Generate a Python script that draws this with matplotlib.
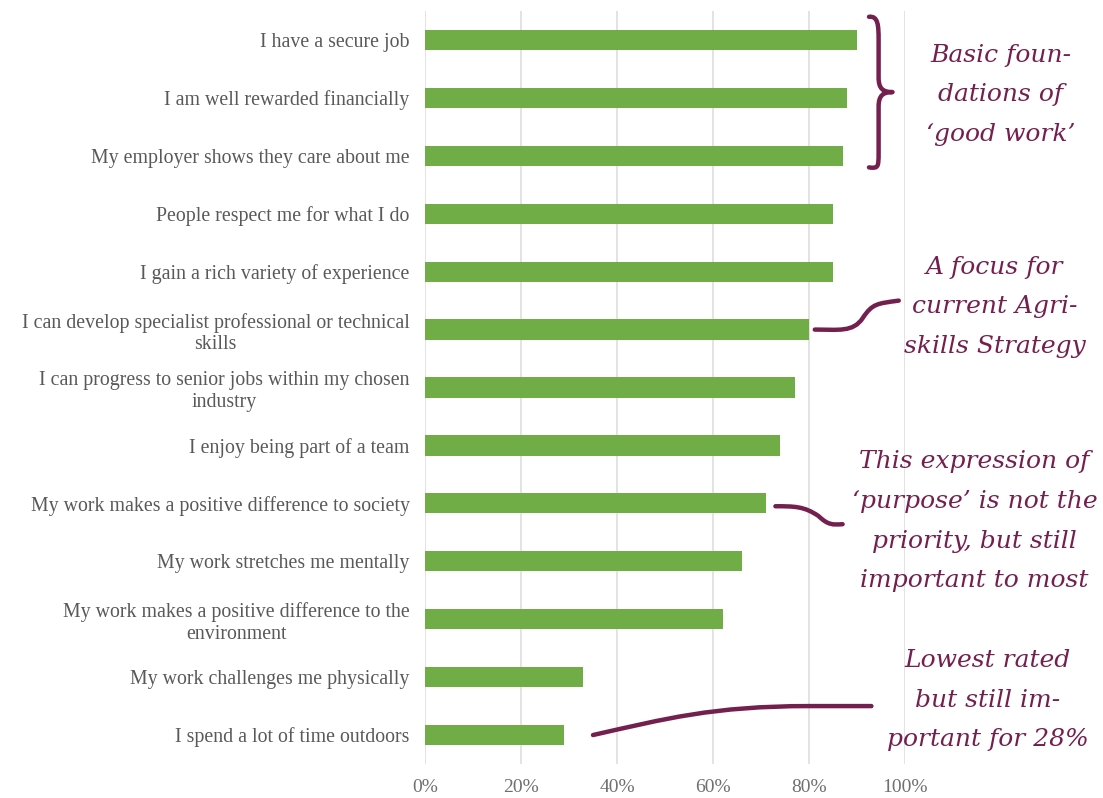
import matplotlib
matplotlib.use("Agg")
import matplotlib.pyplot as plt
from matplotlib.path import Path
from matplotlib.patches import PathPatch

categories = [
    "I have a secure job",
    "I am well rewarded financially",
    "My employer shows they care about me",
    "People respect me for what I do",
    "I gain a rich variety of experience",
    "I can develop specialist professional or technical\nskills",
    "I can progress to senior jobs within my chosen\nindustry",
    "I enjoy being part of a team",
    "My work makes a positive difference to society",
    "My work stretches me mentally",
    "My work makes a positive difference to the\nenvironment",
    "My work challenges me physically",
    "I spend a lot of time outdoors",
]
values = [90, 88, 87, 85, 85, 80, 77, 74, 71, 66, 62, 33, 29]
xticks = [0, 20, 40, 60, 80, 100]

notes = [
    "Basic foun-\ndations of\n\u2018good work\u2019",
    "A focus for\ncurrent Agri-\nskills Strategy",
    "This expression of\n\u2018purpose\u2019 is not the\npriority, but still\nimportant to most",
    "Lowest rated\nbut still im-\nportant for 28%",
]

GREEN = "#70AD47"
GREY = "#595959"
MAROON = "#74204F"

fig = plt.figure(figsize=(11.03, 7.98), dpi=100)
ax = fig.add_axes([0.3853, 0.0426, 0.4352, 0.9436])

ys = list(range(len(categories)))
ax.barh(ys, values, height=0.35, color=GREEN, zorder=2)
ax.set_ylim(len(categories) - 0.5, -0.5)
ax.set_xlim(0, 100)
ax.set_xticks(xticks)
ax.set_xticklabels([f"{t}%" for t in xticks], fontsize=14, color="#6f6f6f",
                   family="Liberation Serif")
ax.set_yticks(ys)
ax.set_yticklabels(categories, fontsize=14.3, color=GREY, family="Liberation Serif")
for lbl in ax.get_yticklabels():
    lbl.set_multialignment("center")
    lbl.set_linespacing(1.2)
ax.tick_params(length=0, pad=11)
ax.tick_params(axis="x", pad=11)
ax.grid(axis="x", color="#E0E0E0", lw=1.3, zorder=0)
for s in ax.spines.values():
    s.set_visible(False)

line_kw = dict(fill=False, edgecolor=MAROON, lw=3.2, capstyle="round",
               joinstyle="round", clip_on=False, zorder=3)

# brace around the top three bars
C4 = Path.CURVE4
brace = Path(
    [(92.5, -0.40), (94.4, -0.42), (94.5, -0.25), (94.5, 0.0),
     (94.5, 0.65), (94.5, 0.84), (95.4, 0.9), (97.4, 0.9),
     (95.4, 0.9), (94.5, 0.96), (94.5, 1.15),
     (94.5, 1.95), (94.5, 2.2), (94.4, 2.22), (92.5, 2.2)],
    [Path.MOVETO, C4, C4, C4, Path.LINETO, C4, C4, C4, C4, C4, C4,
     Path.LINETO, C4, C4, C4],
)
ax.add_patch(PathPatch(brace, **line_kw))

# connector to the agri-skills bar
x0 = values[5] + 1.2
agri = Path(
    [(x0, 5.0), (x0 + 5, 5.0), (x0 + 8, 5.05), (x0 + 10, 4.8),
     (x0 + 12, 4.55), (x0 + 13, 4.55), (x0 + 17.5, 4.5)],
    [Path.MOVETO, C4, C4, C4, C4, C4, C4],
)
ax.add_patch(PathPatch(agri, **line_kw))

# connector to the society bar
x1 = values[8] + 2
purpose = Path(
    [(x1, 8.05), (x1 + 4, 8.05), (x1 + 6, 8.05), (x1 + 9, 8.22),
     (x1 + 11, 8.38), (x1 + 12, 8.37), (x1 + 14, 8.36)],
    [Path.MOVETO, C4, C4, C4, C4, C4, C4],
)
ax.add_patch(PathPatch(purpose, **line_kw))

# connector to the outdoors bar
x2 = values[12] + 6
lowest = Path(
    [(x2, 12.0), (x2 + 15, 11.72), (x2 + 25, 11.5), (x2 + 45, 11.5),
     (x2 + 58, 11.5)],
    [Path.MOVETO, C4, C4, C4, Path.LINETO],
)
ax.add_patch(PathPatch(lowest, **line_kw))

note_kw = dict(color=MAROON, fontsize=18, family="DejaVu Serif", style="italic",
               ha="center", va="center", multialignment="center",
               linespacing=1.92, clip_on=False)
ax.text(119.9, 0.95, notes[0], **note_kw)
ax.text(118.7, 4.61, notes[1], **note_kw)
ax.text(114.5, 8.31, notes[2], **note_kw)
ax.text(117.2, 11.4, notes[3], **note_kw)

fig.savefig("out.png", dpi=100)
